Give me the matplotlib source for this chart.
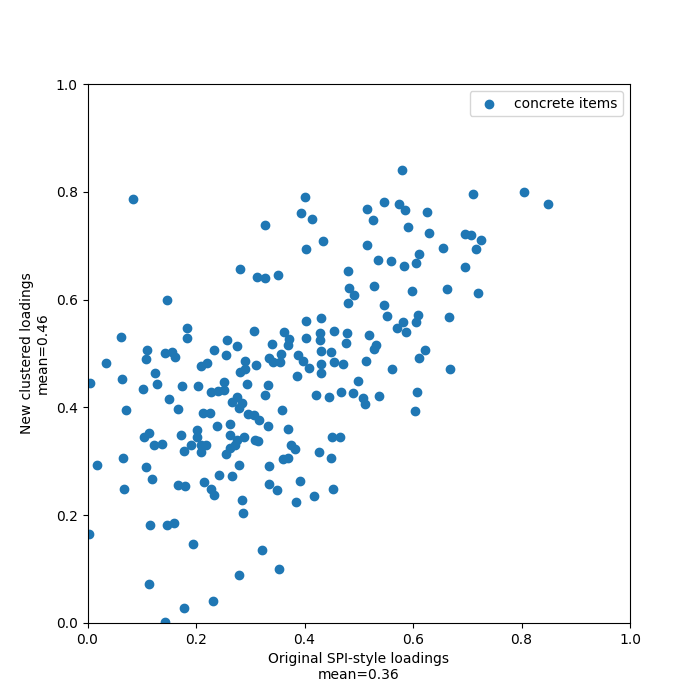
import matplotlib
matplotlib.use("Agg")
import matplotlib.pyplot as plt
import numpy as np

# Original SPI-style loadings (x) and new clustered loadings (y) for concrete items
x_vals = [
    # upper region
    0.083, 0.328, 0.282, 0.312, 0.328, 0.147, 0.580, 0.401, 0.393, 0.414,
    0.434, 0.402, 0.516, 0.546, 0.574, 0.585, 0.626, 0.526, 0.591, 0.630,
    0.515, 0.535, 0.559, 0.583, 0.606, 0.611, 0.480, 0.351, 0.528, 0.482,
    0.491, 0.598, 0.711, 0.805, 0.849, 0.695, 0.706, 0.726, 0.655, 0.716,
    0.695, 0.663, 0.720, 0.666, 0.668,
    # left strip
    0.061, 0.109, 0.107, 0.035, 0.004, 0.063, 0.102, 0.071, 0.105, 0.114,
    0.018, 0.065, 0.107,
    # middle-left
    0.184, 0.184, 0.257, 0.276, 0.142, 0.156, 0.161, 0.234, 0.255, 0.210,
    0.220, 0.291, 0.291, 0.281, 0.124, 0.129, 0.174, 0.203, 0.251, 0.294,
    # middle
    0.480, 0.306, 0.403, 0.431, 0.362, 0.372, 0.369, 0.340, 0.403, 0.429,
    0.428, 0.454, 0.479, 0.477, 0.357, 0.334, 0.342, 0.354, 0.388, 0.397,
    0.408, 0.431, 0.448, 0.431, 0.455, 0.471, 0.310, 0.387, 0.430, 0.332,
    # lower-left dense
    0.151, 0.167, 0.212, 0.225, 0.227, 0.241, 0.251, 0.267, 0.276, 0.284,
    0.280, 0.295, 0.239, 0.262, 0.173, 0.201, 0.201, 0.123, 0.138, 0.190,
    0.177, 0.210, 0.219, 0.210, 0.262, 0.275, 0.289, 0.271, 0.263, 0.256,
    0.280, 0.243, 0.267, 0.119,
    # lower-middle
    0.328, 0.422, 0.446, 0.468, 0.358, 0.306, 0.317, 0.332, 0.369, 0.308,
    0.315, 0.376, 0.383, 0.450, 0.466, 0.426, 0.448, 0.361, 0.370, 0.334,
    # middle-right
    0.547, 0.552, 0.582, 0.571, 0.588, 0.610, 0.606, 0.519, 0.532, 0.528,
    0.513, 0.561, 0.623, 0.611, 0.498, 0.490, 0.508, 0.511, 0.538, 0.607,
    0.604,
    # bottom
    0.215, 0.167, 0.179, 0.228, 0.233, 0.284, 0.286, 0.335, 0.068, 0.116,
    0.146, 0.159, 0.003, 0.194, 0.321, 0.279, 0.114, 0.231, 0.177, 0.143,
    0.391, 0.349, 0.417, 0.384, 0.452, 0.353,
]
y_vals = [
    # upper region
    0.787, 0.739, 0.657, 0.642, 0.640, 0.599, 0.841, 0.791, 0.760, 0.750,
    0.709, 0.693, 0.769, 0.782, 0.777, 0.767, 0.763, 0.747, 0.735, 0.723,
    0.701, 0.674, 0.672, 0.662, 0.667, 0.684, 0.653, 0.646, 0.625, 0.621,
    0.608, 0.616, 0.795, 0.800, 0.777, 0.721, 0.719, 0.711, 0.695, 0.693,
    0.661, 0.620, 0.612, 0.568, 0.472,
    # left strip
    0.530, 0.507, 0.489, 0.482, 0.445, 0.452, 0.435, 0.396, 0.346, 0.353,
    0.294, 0.307, 0.289,
    # middle-left
    0.547, 0.528, 0.525, 0.513, 0.501, 0.503, 0.493, 0.507, 0.497, 0.476,
    0.482, 0.487, 0.472, 0.465, 0.464, 0.443, 0.439, 0.439, 0.447, 0.443,
    # middle
    0.593, 0.542, 0.561, 0.566, 0.539, 0.527, 0.515, 0.518, 0.529, 0.538,
    0.525, 0.542, 0.538, 0.519, 0.500, 0.491, 0.485, 0.485, 0.497, 0.486,
    0.474, 0.505, 0.503, 0.480, 0.484, 0.480, 0.479, 0.459, 0.464, 0.441,
    # lower-left dense
    0.415, 0.397, 0.389, 0.389, 0.428, 0.430, 0.432, 0.410, 0.419, 0.408,
    0.399, 0.387, 0.365, 0.369, 0.348, 0.358, 0.345, 0.331, 0.333, 0.331,
    0.320, 0.330, 0.330, 0.317, 0.348, 0.339, 0.346, 0.330, 0.324, 0.313,
    0.294, 0.274, 0.272, 0.268,
    # lower-middle
    0.423, 0.423, 0.419, 0.428, 0.395, 0.385, 0.376, 0.365, 0.359, 0.339,
    0.337, 0.331, 0.322, 0.346, 0.345, 0.317, 0.307, 0.304, 0.307, 0.292,
    # middle-right
    0.590, 0.570, 0.558, 0.547, 0.539, 0.572, 0.559, 0.534, 0.516, 0.508,
    0.487, 0.472, 0.507, 0.491, 0.449, 0.426, 0.418, 0.407, 0.421, 0.428,
    0.393,
    # bottom
    0.261, 0.256, 0.254, 0.248, 0.238, 0.228, 0.204, 0.257, 0.249, 0.182,
    0.182, 0.186, 0.166, 0.147, 0.136, 0.089, 0.072, 0.041, 0.028, 0.002,
    0.264, 0.247, 0.235, 0.225, 0.248, 0.100,
]

series_label = "concrete items"
x_label = "Original SPI-style loadings\nmean=0.36"
y_label = "New clustered loadings\nmean=0.46"

fig, ax = plt.subplots(figsize=(7, 7), dpi=100)
ax.scatter(x_vals, y_vals, label=series_label)
ax.set_xlim(0, 1)
ax.set_ylim(0, 1)
ax.set_xlabel(x_label)
ax.set_ylabel(y_label)
ax.legend(loc="upper right")
fig.savefig("out.png", dpi=100)
